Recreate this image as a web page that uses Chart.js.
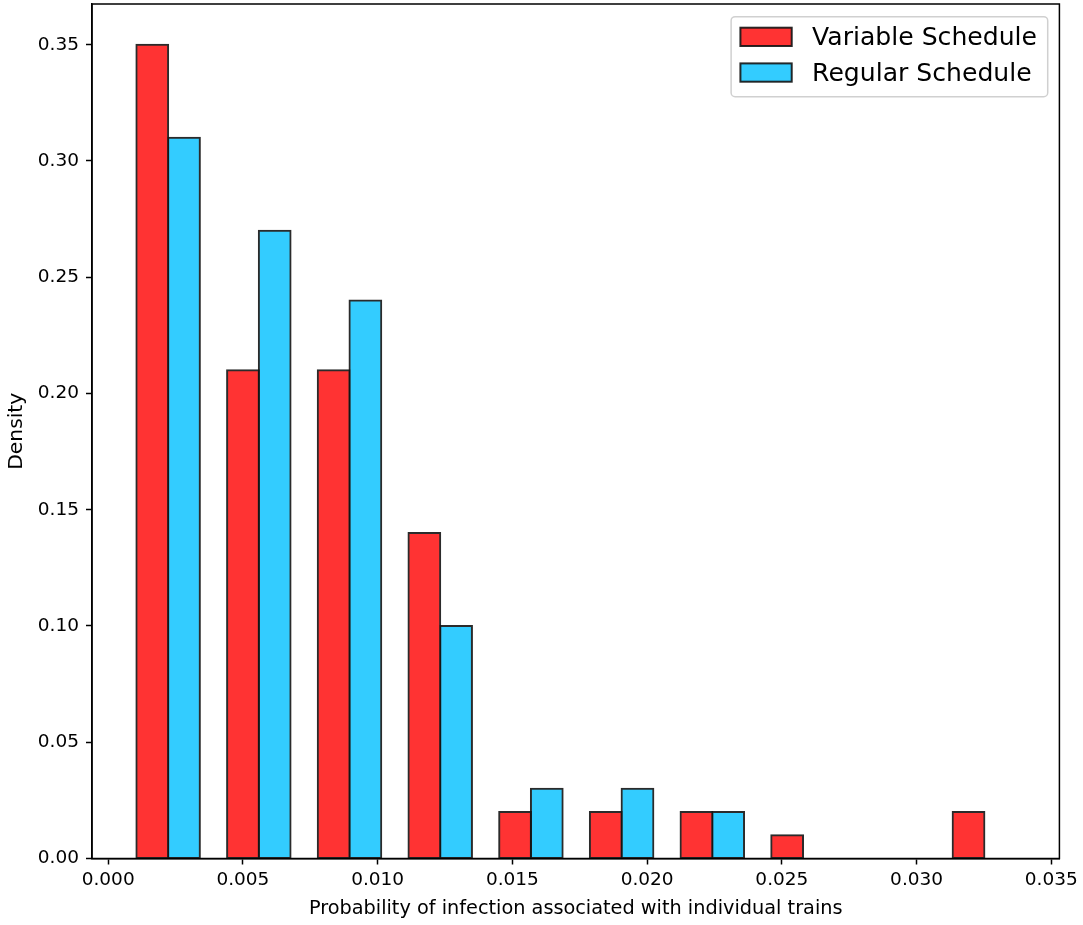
<!DOCTYPE html>
<html>
<head>
<meta charset="utf-8">
<title>Infection probability histogram</title>
<script src="https://cdn.jsdelivr.net/npm/chart.js@4.4.1/dist/chart.umd.min.js"></script>
<style>
  html, body { margin: 0; padding: 0; background: #ffffff; }
  canvas { display: block; }
</style>
</head>
<body>
<canvas id="chart" width="1083" height="925"></canvas>
<script>
// Histogram bins (centre of each bin, probability of infection)
const binCenters = [0.002225, 0.005591, 0.008956, 0.012322, 0.015688, 0.019054, 0.022419, 0.025785, 0.029151, 0.032516];

// Share of trains falling in each bin
const variableSchedule = [0.35, 0.21, 0.21, 0.14, 0.02, 0.02, 0.02, 0.01, 0, 0.02];
const regularSchedule  = [0.31, 0.27, 0.24, 0.10, 0.03, 0.03, 0.02, 0, 0, 0];

const seriesLabels = ['Variable Schedule', 'Regular Schedule'];

// Axis tick values
const xTickValues = [0, 0.005, 0.010, 0.015, 0.020, 0.025, 0.030, 0.035];
const yTickValues = [0, 0.05, 0.10, 0.15, 0.20, 0.25, 0.30, 0.35];

const FONT = '"DejaVu Sans", "Liberation Sans", sans-serif';

// Full frame around the plot area, drawn over the bars
const frame = {
  id: 'frame',
  afterDatasetsDraw(chart) {
    const { ctx, chartArea: a } = chart;
    ctx.save();
    ctx.strokeStyle = '#000';
    ctx.lineWidth = 1.5;
    ctx.strokeRect(a.left, a.top, a.right - a.left, a.bottom - a.top);
    ctx.restore();
  }
};

// Legend box placed inside the upper-right corner of the plot area
const insideLegend = {
  id: 'insideLegend',
  afterDraw(chart) {
    const { ctx, chartArea: a } = chart;
    const boxW = 316.6, boxH = 80, r = 4;
    const x0 = a.right - 11.7 - boxW;
    const y0 = a.top + 12.7;
    ctx.save();
    ctx.beginPath();
    ctx.moveTo(x0 + r, y0);
    ctx.lineTo(x0 + boxW - r, y0);
    ctx.arcTo(x0 + boxW, y0, x0 + boxW, y0 + r, r);
    ctx.lineTo(x0 + boxW, y0 + boxH - r);
    ctx.arcTo(x0 + boxW, y0 + boxH, x0 + boxW - r, y0 + boxH, r);
    ctx.lineTo(x0 + r, y0 + boxH);
    ctx.arcTo(x0, y0 + boxH, x0, y0 + boxH - r, r);
    ctx.lineTo(x0, y0 + r);
    ctx.arcTo(x0, y0, x0 + r, y0, r);
    ctx.closePath();
    ctx.fillStyle = 'rgba(255,255,255,0.8)';
    ctx.fill();
    ctx.strokeStyle = '#d0d0d0';
    ctx.lineWidth = 1.5;
    ctx.stroke();

    chart.data.datasets.forEach((ds, i) => {
      const sy = y0 + 11 + i * 35.7;
      const sx = x0 + 9.3;
      ctx.fillStyle = ds.backgroundColor;
      ctx.fillRect(sx, sy, 51.3, 18.3);
      ctx.strokeStyle = ds.borderColor;
      ctx.lineWidth = 2;
      ctx.strokeRect(sx, sy, 51.3, 18.3);
      ctx.fillStyle = '#000';
      ctx.font = '25.1px ' + FONT;
      ctx.textBaseline = 'alphabetic';
      ctx.textAlign = 'left';
      ctx.fillText(ds.label, x0 + 81, sy + 17.6);
    });
    ctx.restore();
  }
};

const barStyle = {
  borderColor: 'rgba(20,20,20,0.9)',
  borderWidth: 2,
  borderSkipped: false,
  inflateAmount: 1,
  categoryPercentage: 0.7,
  barPercentage: 1.0
};

new Chart(document.getElementById('chart'), {
  type: 'bar',
  data: {
    datasets: [
      Object.assign({
        label: seriesLabels[0],
        data: binCenters.map((x, i) => ({ x, y: variableSchedule[i] })),
        backgroundColor: '#ff3333'
      }, barStyle),
      Object.assign({
        label: seriesLabels[1],
        data: binCenters.map((x, i) => ({ x, y: regularSchedule[i] })),
        backgroundColor: '#33ccff'
      }, barStyle)
    ]
  },
  options: {
    responsive: false,
    animation: false,
    devicePixelRatio: 1,
    layout: { padding: { left: 0, right: 23, top: 4, bottom: 0 } },
    plugins: {
      legend: { display: false },
      tooltip: { enabled: false }
    },
    scales: {
      x: {
        type: 'linear',
        min: -0.0006,
        max: 0.0353,
        offset: false,
        afterBuildTicks: s => { s.ticks = xTickValues.map(v => ({ value: v })); },
        afterFit: s => { s.height = 66.5; },
        grid: { offset: false, drawOnChartArea: false, drawTicks: true, tickLength: 6, tickWidth: 1.5, tickColor: '#000' },
        border: { display: true, color: '#000', width: 1.5 },
        ticks: {
          font: { family: FONT, size: 18.5 },
          color: '#000',
          padding: 5,
          maxRotation: 0,
          autoSkip: false,
          callback: v => Number(v).toFixed(3)
        },
        title: {
          display: true,
          text: 'Probability of infection associated with individual trains',
          font: { family: FONT, size: 19.3 },
          color: '#000',
          padding: { top: 0, bottom: 4 }
        }
      },
      y: {
        type: 'linear',
        min: 0,
        max: 0.3675,
        afterBuildTicks: s => { s.ticks = yTickValues.map(v => ({ value: v })); },
        afterFit: s => { s.width = 92; s.paddingTop = 0; s.paddingBottom = 0; },
        grid: { offset: false, drawOnChartArea: false, drawTicks: true, tickLength: 6, tickWidth: 1.5, tickColor: '#000' },
        border: { display: true, color: '#000', width: 1.5 },
        ticks: {
          font: { family: FONT, size: 18.5 },
          color: '#000',
          padding: 7,
          autoSkip: false,
          callback: v => Number(v).toFixed(2)
        },
        title: {
          display: true,
          text: 'Density',
          font: { family: FONT, size: 20.3 },
          color: '#000',
          padding: { top: 5, bottom: 0 }
        }
      }
    }
  },
  plugins: [frame, insideLegend]
});
</script>
</body>
</html>
